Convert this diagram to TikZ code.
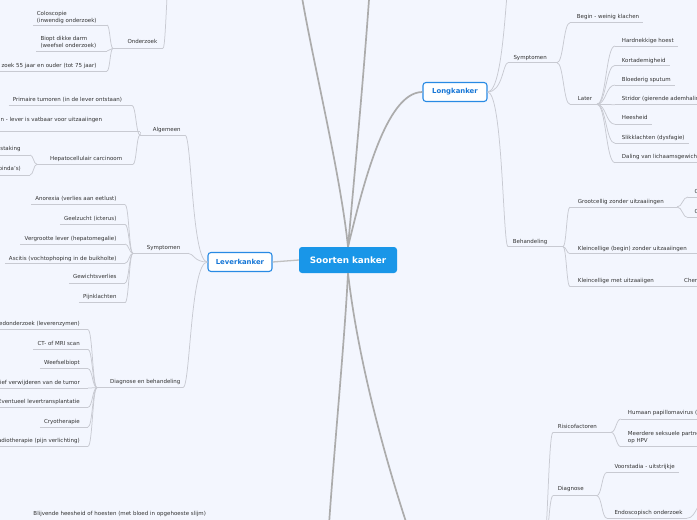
\documentclass[tikz,border=0pt]{standalone}
\usepackage{fontspec}
\setmainfont{DejaVu Sans}
\usetikzlibrary{calc}
\definecolor{bg}{RGB}{243,246,254}
\definecolor{mainblue}{RGB}{25,150,232}
\definecolor{lblue}{RGB}{40,138,228}
\definecolor{ltxt}{RGB}{22,118,214}
\definecolor{mgray}{RGB}{172,172,172}
\definecolor{lgray}{RGB}{192,192,192}
\definecolor{cgray}{RGB}{200,202,210}
\definecolor{tgray}{RGB}{51,51,51}
% right-side topic, explicit underline ends
\newcommand\tpr[7]{%
 \node[topic,anchor=base west] (#1) at (#2,#3) {#7};
 \coordinate (#1L) at (#5,#4); \coordinate (#1R) at (#6,#4);
 \draw[uline] (#1L) -- (#1R);}
% right-side topic, automatic right end
\newcommand\tpa[6]{%
 \node[topic,anchor=base west] (#1) at (#2,#3) {#6};
 \coordinate (#1L) at (#5,#4);
 \path (#1.base east) ++(4,0) coordinate (#1b);
 \coordinate (#1R) at (#1b |- 0,#4);
 \draw[uline] (#1L) -- (#1R);}
% left-side topic, automatic left end
\newcommand\tpl[6]{%
 \node[topic,anchor=base east] (#1) at (#2,#3) {#6};
 \path (#1.base west) ++(-4,0) coordinate (#1a);
 \coordinate (#1L) at (#1a |- 0,#4); \coordinate (#1R) at (#5,#4);
 \draw[uline] (#1L) -- (#1R);}
% left-side topic, explicit ends
\newcommand\tpL[7]{%
 \node[topic,anchor=base east] (#1) at (#2,#3) {#7};
 \coordinate (#1L) at (#5,#4); \coordinate (#1R) at (#6,#4);
 \draw[uline] (#1L) -- (#1R);}
% multi-line topic
\newcommand\tpM[7]{%
 \node[topic,anchor=south west,align=left] (#1) at (#2,#3+1.2) {#7};
 \coordinate (#1L) at (#5,#4); \coordinate (#1R) at (#6,#4);
 \draw[uline] (#1L) -- (#1R);}
% connector
\newcommand\cnx[3][0.5]{\draw[cline] let \p1=(#2), \p2=(#3) in (\p1) .. controls ({\x1+#1*(\x2-\x1)},\y1) and ({\x1+#1*(\x2-\x1)},\y2) .. (\p2);}
\begin{document}
\begin{tikzpicture}[x=1pt,y=-1pt,
  topic/.style={inner sep=0pt,font=\fontsize{5.5}{7}\selectfont,text=tgray},
  uline/.style={draw=cgray,line width=0.75pt},
  cline/.style={draw=cgray,line width=0.75pt},
  mline/.style={draw=mgray,line width=1.7pt},
  lline/.style={draw=lgray,line width=1.3pt},
  ctrbox/.style={fill=mainblue,rounded corners=3pt,minimum width=98pt,minimum height=26pt,inner sep=0pt,text=white,font=\fontsize{8.8}{10}\selectfont\bfseries},
  subbox/.style={draw=lblue,line width=1.1pt,fill=white,rounded corners=3pt,minimum width=64pt,minimum height=19pt,inner sep=0pt,text=ltxt,font=\fontsize{6.9}{8}\selectfont\bfseries}]
\path[use as bounding box,fill=bg] (0,0) rectangle (697,520);
\clip (0,0) rectangle (697,520);

% main nodes
\node[ctrbox] (ctr) at (348,260) {Soorten kanker};
\node[subbox] (lever) at (240,262) {Leverkanker};
\node[subbox] (long) at (455,92) {Longkanker};

% off-picture end points
\coordinate (offA) at (300,-15);
\coordinate (offB) at (370,-15);
\coordinate (offC) at (328,540);
\coordinate (offD) at (412,540);
\coordinate (offE) at (175,-60);
\coordinate (offF) at (512,-40);
\coordinate (offG) at (540,575);
\coordinate (offH) at (709,495);

% ---- top-left (Onderzoek)
\tpr{ond}{127.3}{43.8}{48.3}{113}{163}{Onderzoek}
\tpM{colo}{36.7}{22.5}{25}{33}{107}{Coloscopie\\(inwendig onderzoek)}
\tpM{biopt}{40.3}{47.5}{51}{36}{107}{Biopt dikke darm\\(weefsel onderzoek)}
\tpl{bev}{96.7}{67.5}{71}{107}{zoek 55 jaar en ouder (tot 75 jaar)}

% ---- Leverkanker: Algemeen
\tpr{alg}{152.7}{131.5}{135}{140}{185}{Algemeen}
\tpl{prim}{122.3}{101.5}{105.5}{132}{Primaire tumoren (in de lever ontstaan)}
\tpl{sec}{102.3}{121.5}{131.7}{140}{n - lever is vatbaar voor uitzaaiingen}
\tpL{hep}{122.3}{160.8}{164.3}{37}{133}{Hepatocellulair carcinoom}
\tpl{stak}{20.7}{150.8}{155}{30}{staking}
\tpl{pinda}{21}{170.8}{175}{30}{pinda's)}

% ---- Leverkanker: Symptomen
\tpr{symL}{146.7}{249.8}{253.3}{133}{188}{Symptomen}
\tpl{anor}{116.7}{200.8}{204.7}{125}{Anorexia (verlies aan eetlust)}
\tpl{geel}{116.7}{220.8}{224.3}{125}{Geelzucht (icterus)}
\tpl{verg}{116.7}{240.5}{244}{125}{Vergrootte lever (hepatomegalie)}
\tpl{asc}{116.7}{260.2}{263.3}{125}{Ascitis (vochtophoping in de buikholte)}
\tpl{gew}{116.7}{278.8}{283}{125}{Gewichtsverlies}
\tpl{pijn}{116.7}{298.8}{302.7}{125}{Pijnklachten}

% ---- Leverkanker: Diagnose en behandeling
\tpr{diag}{110}{383.8}{387.7}{97}{183}{Diagnose en behandeling}
\tpl{bloedo}{80}{325.8}{329.7}{88}{edonderzoek (leverenzymen)}
\tpl{ct}{80}{345.5}{349.3}{88}{CT- of MRI scan}
\tpl{weef}{80}{364.8}{368.7}{88}{Weefselbiopt}
\tpl{chir}{80}{384.2}{388}{88}{ief verwijderen van de tumor}
\tpl{event}{80}{403.5}{407.3}{88}{Eventueel levertransplantatie}
\tpl{cryo}{80}{423.2}{427}{88}{Cryotherapie}
\tpl{radio}{80}{442.5}{446.3}{88}{adiotherapie (pijn verlichting)}

\node[topic,anchor=base west] (blijv) at (33.3,515.5) {Blijvende heesheid of hoesten (met bloed in opgehoeste slijm)};

% ---- Longkanker
\tpr{symR}{513.3}{59.2}{62.7}{508}{557}{Symptomen}
\tpa{begin}{576.7}{18.2}{22.7}{570}{Begin - weinig klachen}
\tpr{later}{577.7}{100.8}{104.3}{570}{597}{Later}
\tpa{hard}{621.7}{42.8}{46}{615}{Hardnekkige hoest}
\tpa{kort}{621.7}{62.2}{65.3}{615}{Kortademigheid}
\tpa{bloed}{621.7}{81.5}{85}{615}{Bloederig sputum}
\tpr{stri}{621.7}{100.8}{104.7}{615}{700}{Stridor (gierende ademhaling)}
\tpa{hees}{621.7}{119.8}{124.3}{615}{Heesheid}
\tpa{slik}{621.7}{139.8}{143.3}{615}{Slikklachten (dysfagie)}
\tpr{dal}{621.7}{158.2}{162.7}{615}{700}{Daling van lichaamsgewicht}
\tpr{beh}{512.7}{243.2}{246.7}{508}{563}{Behandeling}
\tpr{groot}{577.7}{203.8}{207}{570}{677}{Grootcellig zonder uitzaaiingen}
\tpr{ca}{694.3}{193.2}{197}{688}{700}{C}
\tpr{cb}{694.3}{213.8}{217.7}{688}{700}{C}
\tpr{kleinb}{577.7}{250.5}{253.7}{570}{700}{Kleincellige (begin) zonder uitzaaiingen}
\tpr{kleinm}{577.7}{282.2}{286.7}{570}{678}{Kleincellige met uitzaaiigen}
\tpr{chem}{684}{282.2}{286.7}{680}{700}{Chemotherapie}

% ---- bottom right
\tpr{ris}{557.7}{428.2}{432.3}{553}{611}{Risicofactoren}
\tpr{hum}{627.7}{414.8}{419}{621}{700}{Humaan papillomavirus (HPV)}
\tpM{meer}{627.7}{442.5}{446.7}{621}{700}{Meerdere seksuele partners\\op HPV}
\tpr{diagB}{557.7}{490.8}{495.7}{553}{596.7}{Diagnose}
\tpa{voor}{614.3}{468.8}{472.3}{607}{Voorstadia - uitstrijkje}
\tpa{endo}{614.3}{514.2}{518.3}{607}{Endoscopisch onderzoek}

% ---- main connectors
\draw[mline] (ctr.north) .. controls (340,170) and (310,50) .. (offA);
\draw[mline] (ctr.north) .. controls (355,170) and (365,60) .. (offB);
\draw[mline] (ctr.north) .. controls (362,190) and (385,92) .. (long.west);
\draw[mline] (ctr.south) .. controls (344,350) and (333,460) .. (offC);
\draw[mline] (ctr.south) .. controls (358,360) and (385,460) .. (offD);
\draw[lline] (ctr.west) -- (lever.east);

% ---- branch connectors
\cnx[0.3]{ondR}{offE}
\cnx{ondL}{coloR}
\cnx{ondL}{bioptR}
\cnx{ondL}{bevR}

\cnx[0.7]{lever.west}{algR}
\cnx[0.7]{lever.west}{symLR}
\cnx[0.7]{lever.west}{diagR}
\cnx{algL}{primR}
\cnx{algL}{secR}
\cnx{algL}{hepR}
\cnx{hepL}{stakR}
\cnx{hepL}{pindaR}
\cnx{symLL}{anorR}
\cnx{symLL}{geelR}
\cnx{symLL}{vergR}
\cnx{symLL}{ascR}
\cnx{symLL}{gewR}
\cnx{symLL}{pijnR}
\cnx{diagL}{bloedoR}
\cnx{diagL}{ctR}
\cnx{diagL}{weefR}
\cnx{diagL}{chirR}
\cnx{diagL}{eventR}
\cnx{diagL}{cryoR}
\cnx{diagL}{radioR}

\cnx[0.75]{long.east}{offF}
\cnx[0.75]{long.east}{symRL}
\cnx[0.75]{long.east}{behL}
\cnx{symRR}{beginL}
\cnx{symRR}{laterL}
\cnx{laterR}{hardL}
\cnx{laterR}{kortL}
\cnx{laterR}{bloedL}
\cnx{laterR}{striL}
\cnx{laterR}{heesL}
\cnx{laterR}{slikL}
\cnx{laterR}{dalL}
\cnx{behR}{grootL}
\cnx{behR}{kleinbL}
\cnx{behR}{kleinmL}
\cnx{grootR}{caL}
\cnx{grootR}{cbL}
\draw[cline] (kleinmR) -- (chemL);

\cnx[0.6]{offG}{risL}
\cnx[0.6]{offG}{diagBL}
\cnx{risR}{humL}
\cnx{risR}{meerL}
\cnx{diagBR}{voorL}
\cnx{diagBR}{endoL}
\cnx{endoR}{offH}
\end{tikzpicture}
\end{document}
